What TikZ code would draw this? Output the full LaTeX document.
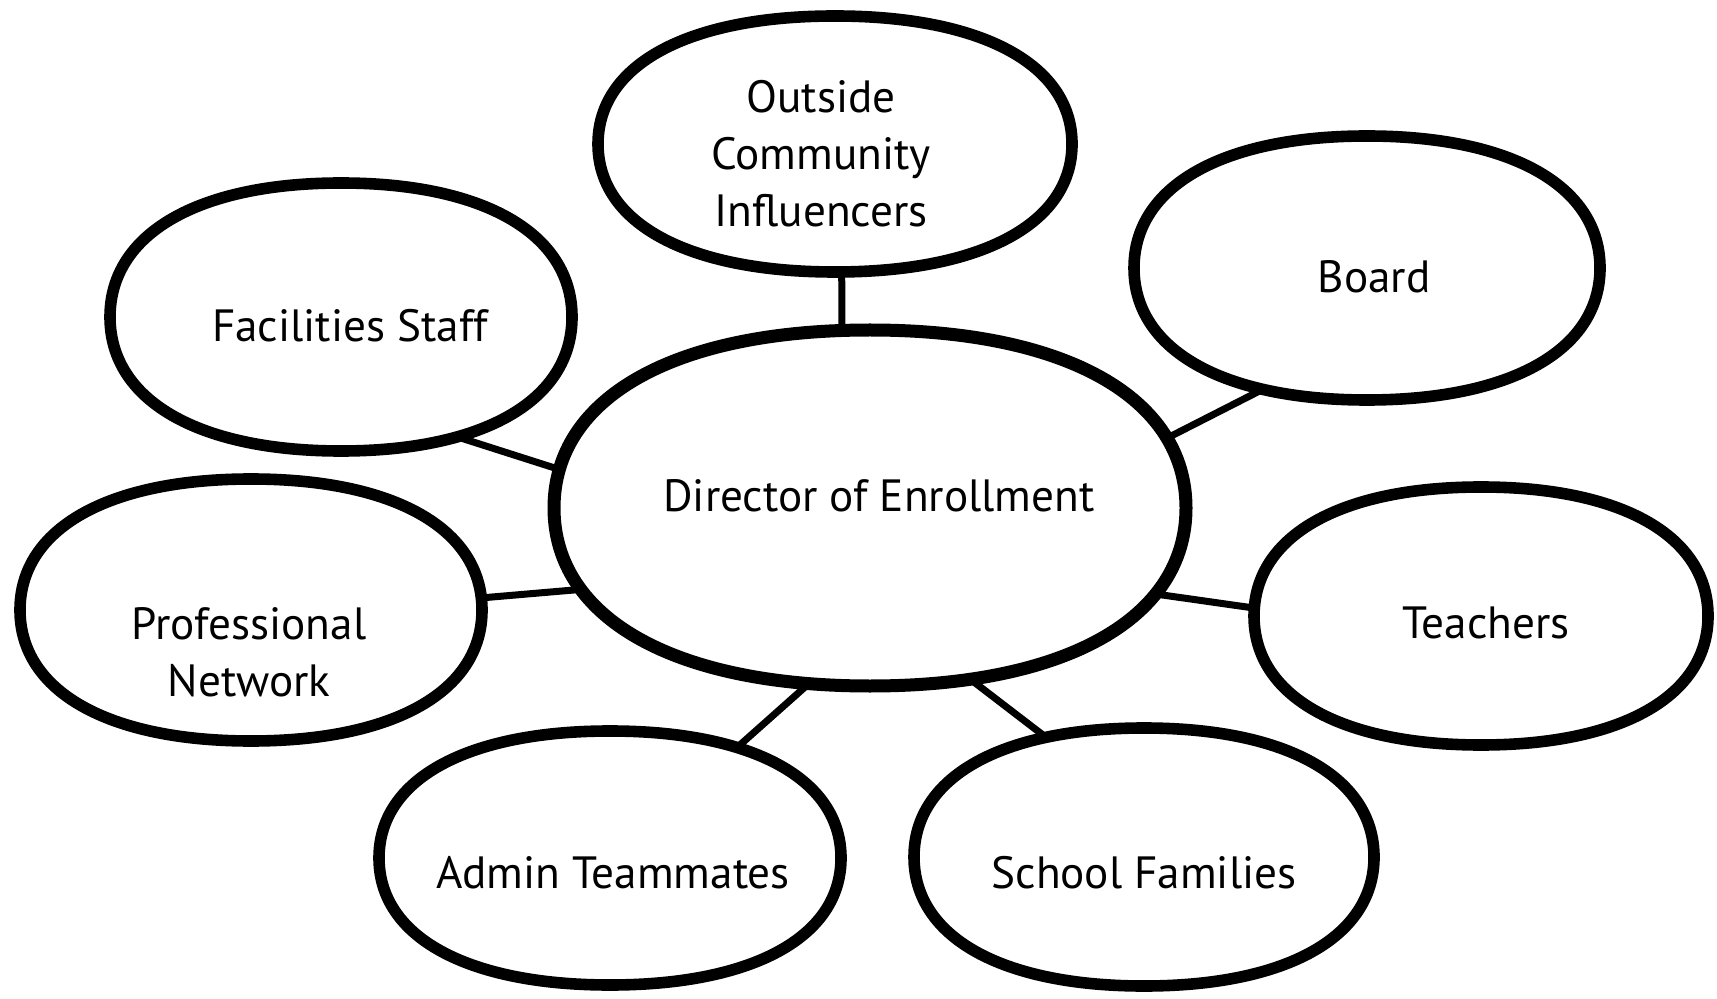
\documentclass[tikz,border=0pt]{standalone}
\usepackage{fontspec}
\setmainfont{PT Sans}
\usetikzlibrary{shapes.geometric}
\pgfdeclarelayer{edges}
\pgfdeclarelayer{blobs}
\pgfsetlayers{edges,blobs,main}
\newcommand{\drawblob}[4]{%
  \pgfmathsetmacro\blobrx{#2*0.5}%
  \pgfmathsetmacro\blobry{#3*0.5}%
  \begin{pgfonlayer}{blobs}
  \draw[line width=#4, fill=white, shift={(#1.center)}, x=\blobrx pt, y=\blobry pt]
    (1,0) .. controls (1,0.62) and (0.62,1) .. (0,1)
    .. controls (-0.62,1) and (-1,0.62) .. (-1,0)
    .. controls (-1,-0.62) and (-0.62,-1) .. (0,-1)
    .. controls (0.62,-1) and (1,-0.62) .. (1,0) -- cycle;
  \end{pgfonlayer}}
\tikzset{
  hub/.style={ellipse, draw=none, inner sep=0pt, outer sep=0pt},
  lbl/.style={font=\fontsize{22.6}{28.5}\selectfont, align=center, inner sep=0pt},
  link/.style={line width=3.5pt}
}
\begin{document}
\begin{tikzpicture}[x=0.5pt, y=-0.5pt]
\useasboundingbox (0,0) rectangle (1717,999);
% hubs (blob extents)
\node[hub, minimum width=231pt, minimum height=134pt] (fac) at (341,317) {};
\node[hub, minimum width=237pt, minimum height=128pt] (oci) at (835,144) {};
\node[hub, minimum width=233pt, minimum height=132pt] (board) at (1367,268) {};
\node[hub, minimum width=316pt, minimum height=178pt] (dir) at (870,508) {};
\node[hub, minimum width=231pt, minimum height=131pt] (pn) at (251,610) {};
\node[hub, minimum width=227pt, minimum height=129pt] (teach) at (1481,616) {};
\node[hub, minimum width=231pt, minimum height=127pt] (admin) at (610,858) {};
\node[hub, minimum width=230pt, minimum height=129pt] (sf) at (1144,857) {};
% blobs
\drawblob{fac}{231}{134}{5.8pt}
\drawblob{oci}{237}{128}{5.8pt}
\drawblob{board}{233}{132}{5.8pt}
\drawblob{dir}{316}{178}{6.5pt}
\drawblob{pn}{231}{131}{5.8pt}
\drawblob{teach}{227}{129}{5.8pt}
\drawblob{admin}{231}{127}{5.8pt}
\drawblob{sf}{230}{129}{5.8pt}
% labels
\node[lbl] (facT) at (350,326) {Facilities Staff};
\node[lbl] (ociT) at (821,154) {Outside\\Community\\Influencers};
\node[lbl] (boardT) at (1374,277) {Board};
\node[lbl] (dirT) at (879,496) {Director of Enrollment};
\node[lbl] (pnT) at (249,652) {Professional\\Network};
\node[lbl] (teachT) at (1486,623) {Teachers};
\node[lbl] (adminT) at (613,873) {Admin Teammates};
\node[lbl] (sfT) at (1144,873) {School Families};
% connectors
\begin{pgfonlayer}{edges}
\draw[link] (fac.-47.7) -- (dir.173.6);
\draw[link] (oci.-87.8) -- (dir.99.6);
\draw[link] (board.-130.6) -- (dir.13);
\draw[link] (pn.3.2) -- (dir.196.8);
\draw[link] (dir.-17.5) -- (teach.178.7);
\draw[link] (admin.41) -- (dir.-109.7);
\draw[link] (dir.-60.5) -- (sf.129.8);
\end{pgfonlayer}
\end{tikzpicture}
\end{document}
